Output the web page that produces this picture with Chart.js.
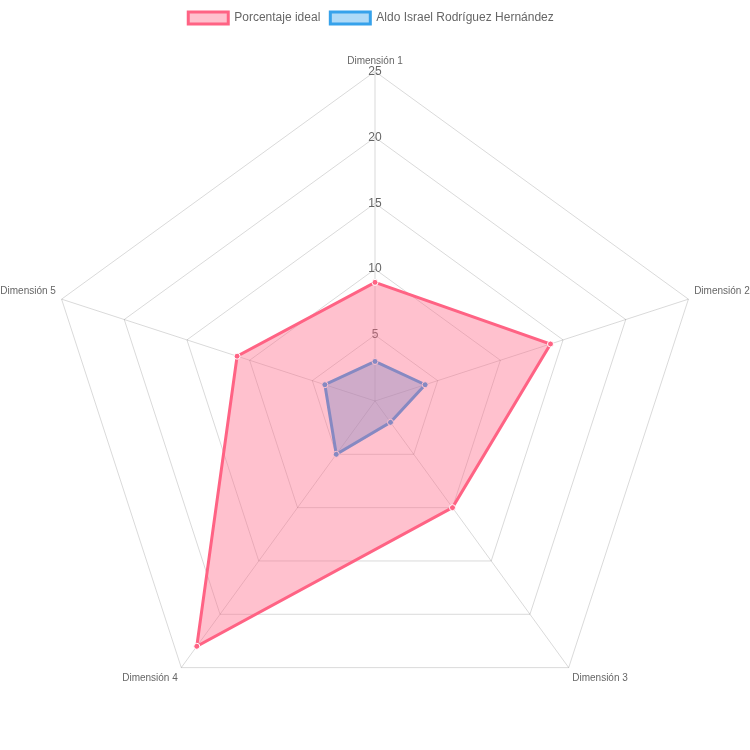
<!DOCTYPE html>
<html>
<head>
<meta charset="utf-8">
<script src="https://cdn.jsdelivr.net/npm/chart.js@4"></script>
<style>
html,body{margin:0;padding:0;background:#fff;}
#wrap{width:750px;height:750px;overflow:hidden;position:relative;}
#inner{position:absolute;left:0;top:4px;width:750px;height:750px;}
</style>
</head>
<body>
<div id="wrap"><div id="inner"><canvas id="c"></canvas></div></div>
<script>
const categories = ['Dimensión 1', 'Dimensión 2', 'Dimensión 3', 'Dimensión 4', 'Dimensión 5'];
const idealValues = [9, 14, 10, 23, 11];
const aldoValues = [3, 4, 2, 5, 4];
const seriesNames = ['Porcentaje ideal', 'Aldo Israel Rodríguez Hernández'];
const scaleMin = 0, scaleMax = 25, scaleStep = 5;

Chart.defaults.font.family = "'Liberation Sans', Arial, Helvetica, sans-serif";
Chart.defaults.color = '#666';

const shiftLegend = {
  id: 'shiftLegend',
  afterLayout(chart) {
    const lg = chart.legend;
    if (lg) { lg.left -= 4; lg.right -= 4; lg.top -= 5; lg.bottom -= 5; }
  }
};

new Chart(document.getElementById('c'), {
  type: 'radar',
  plugins: [shiftLegend],
  data: {
    labels: categories,
    datasets: [
      {
        label: seriesNames[0],
        data: idealValues,
        borderColor: 'rgb(255,99,132)',
        backgroundColor: 'rgba(255,99,132,0.4)',
        pointBackgroundColor: 'rgb(255,99,132)',
        pointBorderColor: '#fff',
        borderWidth: 3,
        pointRadius: 3,
        pointBorderWidth: 1,
        fill: true
      },
      {
        label: seriesNames[1],
        data: aldoValues,
        borderColor: 'rgb(54,162,235)',
        backgroundColor: 'rgba(54,162,235,0.4)',
        pointBackgroundColor: 'rgb(54,162,235)',
        pointBorderColor: '#fff',
        borderWidth: 3,
        pointRadius: 3,
        pointBorderWidth: 1,
        fill: true
      }
    ]
  },
  options: {
    responsive: true,
    maintainAspectRatio: false,
    animation: false,
    layout: { padding: { top: 3 } },
    plugins: {
      legend: {
        position: 'top',
        labels: { boxWidth: 40, boxHeight: 12, font: { size: 12 }, color: '#666', padding: 10 }
      },
      tooltip: { enabled: false }
    },
    scales: {
      r: {
        min: scaleMin,
        max: scaleMax,
        ticks: { stepSize: scaleStep, showLabelBackdrop: false, backdropPadding: 0, font: { size: 12 }, color: '#666' },
        pointLabels: { font: { size: 10 }, color: '#666', padding: (ctx) => ctx.index === 0 ? -2 : 0 },
        grid: { color: 'rgba(0,0,0,0.15)', lineWidth: 1 },
        angleLines: { color: 'rgba(0,0,0,0.15)', lineWidth: 1 }
      }
    }
  }
});
</script>
</body>
</html>
